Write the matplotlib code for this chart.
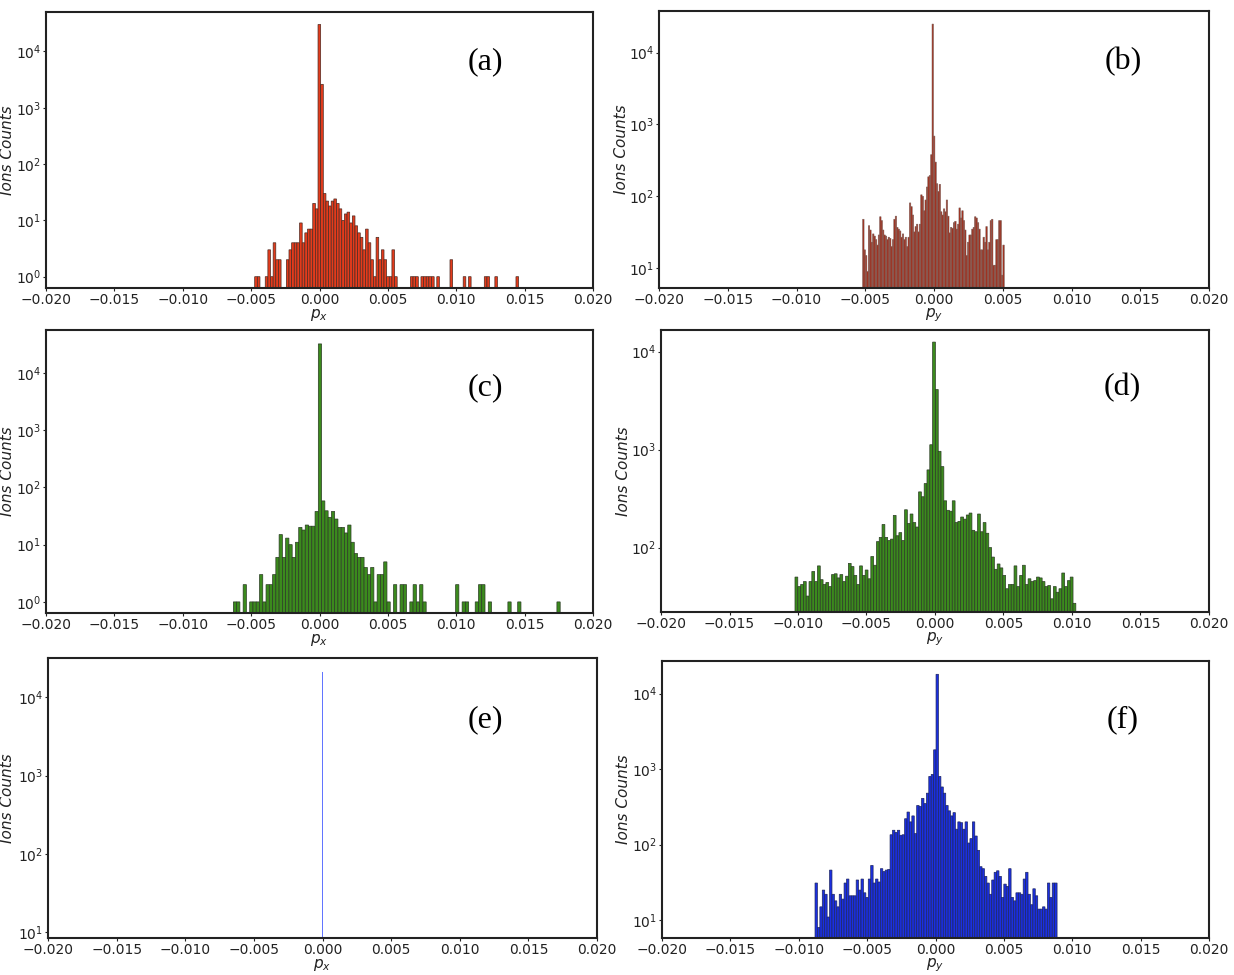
import numpy as np
import matplotlib
matplotlib.use("Agg")
import matplotlib.pyplot as plt

# ---------------- data (histogram counts, 100 bins each) ----------------
xticks = [-0.020, -0.015, -0.010, -0.005, 0.000, 0.005, 0.010, 0.015, 0.020]
panel_labels = ["(a)", "(b)", "(c)", "(d)", "(e)", "(f)"]

# (a) p_x, red
a_start, a_width = -0.00474, 0.000193
a_counts = [1, 1, 0, 0, 1, 3, 1, 4, 2, 2,
            0, 0, 2, 3, 4, 4, 4, 9, 4, 6,
            7, 7, 20, 16, 30000, 2600, 30, 22, 18, 22,
            24, 20, 16, 10, 13, 14, 9, 12, 8, 6,
            5, 3, 7, 4, 2, 1, 5, 2, 3, 2,
            1, 1, 3, 1, 0, 0, 0, 0, 0, 1,
            1, 1, 0, 1, 1, 1, 1, 1, 0, 1,
            0, 0, 0, 0, 2, 0, 0, 0, 0, 1,
            0, 1, 0, 0, 0, 0, 0, 1, 1, 0,
            0, 1, 0, 0, 0, 0, 0, 0, 0, 1]

# (b) p_y, dark red
b_start, b_width = -0.00519, 0.000103
b_counts = [48, 18, 15, 9, 39, 34, 23, 30, 28, 25,
            21, 29, 52, 46, 34, 29, 28, 25, 27, 26,
            20, 25, 48, 53, 37, 35, 33, 27, 30, 25,
            27, 20, 27, 81, 72, 55, 32, 38, 41, 32,
            41, 105, 100, 63, 89, 135, 187, 195, 380, 25000,
            690, 300, 150, 117, 147, 61, 55, 67, 61, 89,
            53, 31, 37, 36, 43, 45, 35, 41, 69, 50,
            63, 46, 34, 15, 23, 29, 29, 35, 37, 52,
            50, 43, 35, 18, 18, 27, 23, 38, 18, 23,
            46, 48, 11, 11, 25, 25, 46, 46, 8, 21]

# (c) p_x, green
c_start, c_width = -0.0063, 0.000239
c_counts = [1, 1, 0, 2, 0, 1, 1, 1, 3, 1,
            2, 2, 3, 6, 15, 6, 13, 10, 6, 11,
            20, 18, 22, 21, 21, 38, 32000, 58, 39, 30,
            38, 28, 20, 20, 16, 22, 11, 7, 6, 6,
            4, 3, 4, 1, 3, 3, 5, 1, 0, 2,
            0, 2, 2, 0, 1, 2, 1, 2, 1, 0,
            0, 0, 0, 0, 0, 0, 0, 0, 2, 0,
            1, 1, 0, 0, 1, 2, 2, 0, 1, 0,
            0, 0, 0, 0, 1, 0, 0, 1, 0, 0,
            0, 0, 0, 0, 0, 0, 0, 0, 0, 1]

# (d) p_y, green
d_start, d_width = -0.01022, 0.000205
d_counts = [50, 40, 42, 45, 32, 45, 57, 45, 65, 47,
            42, 44, 40, 53, 54, 49, 53, 45, 51, 69,
            64, 52, 42, 65, 52, 59, 48, 81, 66, 115,
            127, 172, 127, 118, 122, 213, 132, 142, 118, 243,
            176, 220, 180, 162, 370, 330, 450, 620, 1120, 12500,
            4100, 960, 670, 300, 240, 235, 300, 180, 185, 205,
            195, 215, 225, 150, 145, 220, 145, 180, 140, 100,
            80, 60, 68, 62, 52, 38, 42, 42, 65, 40,
            52, 66, 42, 48, 45, 46, 50, 49, 45, 40,
            41, 30, 40, 35, 38, 55, 40, 46, 50, 27]

# (e) p_x, blue (all counts within a tiny range around 0)
e_start, e_width = -0.0000025, 0.000001
e_counts = [12, 200, 21000, 800, 15]

# (f) p_y, blue
f_start, f_width = -0.00881, 0.000177
f_counts = [31, 8, 15, 25, 22, 11, 46, 22, 18, 15,
            22, 19, 31, 35, 21, 21, 21, 34, 25, 35,
            23, 20, 35, 53, 31, 35, 32, 48, 44, 46,
            47, 135, 155, 145, 155, 133, 135, 220, 270, 200,
            240, 140, 330, 320, 410, 350, 480, 800, 850, 1800,
            18000, 800, 580, 480, 330, 280, 240, 265, 160, 200,
            195, 160, 200, 105, 120, 200, 130, 84, 51, 48,
            38, 31, 22, 34, 43, 45, 38, 20, 30, 28,
            48, 20, 18, 23, 23, 22, 35, 43, 22, 16,
            26, 21, 14, 14, 15, 14, 31, 20, 31, 31]

xlabels = ["$p_x$", "$p_y$", "$p_x$", "$p_y$", "$p_x$", "$p_y$"]

# ---------------- style ----------------
plt.rcParams['font.family'] = ['DejaVu Sans']
plt.rcParams['mathtext.fontset'] = 'dejavusans'

fig = plt.figure(figsize=(12.34, 9.75), dpi=100)
W, H = 1234.0, 975.0


def add_ax(l, r, t, b):
    return fig.add_axes([l / W, 1 - b / H, (r - l) / W, (b - t) / H])


panels = [
    # rect (l, r, t, b), start, width, counts, face, edge, lw, ylim, ylabel right edge px
    ((46, 593, 12, 288), a_start, a_width, a_counts, '#e33b1c', '#4a2a22', 0.5, (0.63, 5.0e4), 15),
    ((659, 1209, 11, 288), b_start, b_width, b_counts, '#a62b19', '#7a5f58', 0.4, (5.3, 3.8e4), 629),
    ((46, 593, 330, 613), c_start, c_width, c_counts, '#3b8a1d', '#2b3a25', 0.5, (0.64, 5.6e4), 15),
    ((661, 1209, 330, 612), d_start, d_width, d_counts, '#3b8a1d', '#2b3a25', 0.5, (22, 1.66e4), 631),
    ((48, 597, 658, 938), e_start, e_width, e_counts, '#6275ff', '#6275ff', 0.6, (8.4, 3.2e4), 15),
    ((662, 1209, 661, 938), f_start, f_width, f_counts, '#1b2fe0', '#1d2660', 0.5, (5.8, 2.7e4), 631),
]

label_pos = [(485, 62), (1123, 62), (485, 388), (1122, 388), (485, 720), (1123, 720)]

minus_labels = []
for v in xticks:
    s = "%.3f" % abs(v)
    minus_labels.append(("\u2212" + s) if v < 0 else s)

for i, (rect, start, width, counts, face, edge, lw, ylim, ylx) in enumerate(panels):
    ax = add_ax(*rect)
    counts = np.asarray(counts, dtype=float)
    lefts = start + width * np.arange(len(counts))
    m = counts > 0
    ax.bar(lefts[m], counts[m], width=width, align='edge', color=face,
           edgecolor=edge, linewidth=lw, log=True, snap=False)
    ax.set_yscale('log')
    ax.set_xlim(-0.02, 0.02)
    ax.set_ylim(*ylim)
    ax.set_xticks(xticks)
    ax.set_xticklabels(minus_labels)
    ax.tick_params(axis='both', which='major', length=2, width=0.8, pad=1.5,
                   labelsize=10, colors='#222222', direction='out')
    ax.tick_params(axis='both', which='minor', length=0)
    for sp in ax.spines.values():
        sp.set_linewidth(1.5)
        sp.set_color('#222222')
    ax.set_xlabel(xlabels[i], fontsize=11, labelpad=0, color='#222222')
    ax.set_ylabel('Ions Counts', fontsize=11, style='italic', color='#222222')
    l, r, t, b = rect
    ax.yaxis.set_label_coords((ylx - l) / (r - l), 0.5)
    lx, ly = label_pos[i]
    fig.text(lx / W, 1 - ly / H, panel_labels[i], fontsize=23,
             family='Liberation Serif', ha='center', va='center', color='black')

fig.savefig("out.png", dpi=100)
